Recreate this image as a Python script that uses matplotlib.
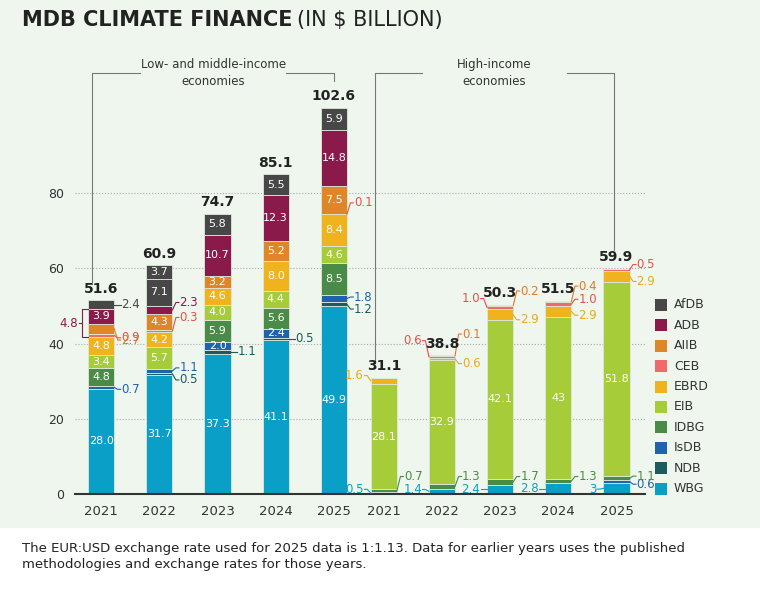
import numpy as np
import matplotlib.pyplot as plt
from matplotlib.patches import Rectangle

years = ['2021', '2022', '2023', '2024', '2025']
totals = [51.6, 60.9, 74.7, 85.1, 102.6, 31.1, 38.8, 50.3, 51.5, 59.9]

# first five: low- and middle-income, last five: high-income
series = ['WBG', 'NDB', 'IsDB', 'IDBG', 'EIB', 'EBRD', 'CEB', 'AIIB', 'ADB', 'Other', 'AfDB']
wbg = [28.0, 31.7, 37.3, 41.1, 49.9, 0.5, 1.4, 2.4, 2.8, 3]
ndb = [0, 0.5, 1.1, 0.5, 1.2, 0, 0, 0, 0, 0]
isdb = [0.7, 1.1, 2.0, 2.4, 1.8, 0, 0, 0, 0, 0.6]
idbg = [4.8, 0, 5.9, 5.6, 8.5, 0.7, 1.3, 1.7, 1.3, 1.1]
eib = [3.4, 5.7, 4.0, 4.4, 4.6, 28.1, 32.9, 42.1, 43, 51.8]
ebrd = [4.8, 4.2, 4.6, 8.0, 8.4, 1.6, 0.6, 2.9, 2.9, 2.9]
ceb = [0.9, 0.3, 0, 0, 0.1, 0, 0.6, 1.0, 1.0, 0.5]
aiib = [2.7, 4.3, 3.2, 5.2, 7.5, 0, 0.1, 0.2, 0.4, 0]
adb = [3.9, 2.3, 10.7, 12.3, 14.8, 0, 0, 0, 0, 0]
other = [0, 7.1, 0, 0, 0, 0, 0, 0, 0, 0]
afdb = [2.4, 3.7, 5.8, 5.5, 5.9, 0, 0, 0, 0, 0]
values = [wbg, ndb, isdb, idbg, eib, ebrd, ceb, aiib, adb, other, afdb]

colors = {'WBG': '#0a9fc6', 'NDB': '#1d5b5e', 'IsDB': '#1f63ae', 'IDBG': '#4b8b48',
          'EIB': '#a7cc3a', 'EBRD': '#efb31d', 'CEB': '#f06a6a', 'AIIB': '#df8629',
          'ADB': '#8a1a49', 'Other': '#474747', 'AfDB': '#474747'}
txtcol = {'WBG': '#0a9fc6', 'NDB': '#1d5b5e', 'IsDB': '#1f63ae', 'IDBG': '#4b8b48',
          'EIB': '#7a9a20', 'EBRD': '#efa81d', 'CEB': '#e8504a', 'AIIB': '#df7a29',
          'ADB': '#8a1a49', 'Other': '#474747', 'AfDB': '#474747'}

# small segments labelled outside: (bar, series, side, dy)
outside = [(0, 'AfDB', 'r', 0), (0, 'CEB', 'r', -0.6), (0, 'AIIB', 'r', -3.0), (0, 'IsDB', 'r', -0.5),
           (1, 'ADB', 'r', 2.0), (1, 'CEB', 'r', 3.6), (1, 'IsDB', 'r', 0.8), (1, 'NDB', 'r', -1.6),
           (2, 'NDB', 'r', 0), (3, 'NDB', 'r', 0), (4, 'CEB', 'r', 3.0), (4, 'IsDB', 'r', 0.4),
           (4, 'NDB', 'r', -1.3),
           (5, 'WBG', 'l', 1.0), (5, 'IDBG', 'r', 3.8), (5, 'EBRD', 'l', 1.4),
           (6, 'WBG', 'l', 0.5), (6, 'IDBG', 'r', 2.6), (6, 'CEB', 'l', 4.3), (6, 'AIIB', 'r', 5.7),
           (6, 'EBRD', 'r', -1.2),
           (7, 'WBG', 'l', 0), (7, 'IDBG', 'r', 1.4), (7, 'CEB', 'l', 2.4), (7, 'AIIB', 'r', 3.8),
           (7, 'EBRD', 'r', -1.3),
           (8, 'WBG', 'l', 0), (8, 'IDBG', 'r', 1.2), (8, 'AIIB', 'r', 4.1), (8, 'CEB', 'r', 1.3),
           (8, 'EBRD', 'r', -1.0),
           (9, 'WBG', 'l', -0.2), (9, 'IsDB', 'r', -0.7), (9, 'IDBG', 'r', 0.6), (9, 'CEB', 'r', 1.4),
           (9, 'EBRD', 'r', -1.4)]

xs = np.r_[np.arange(5), np.arange(5) + 4.86]


def fmt(i, name):
    v = values[series.index(name)][i]
    return str(v) if isinstance(v, int) else f'{v:.1f}'


fig = plt.figure(figsize=(7.6, 5.91), dpi=100)
fig.patch.set_facecolor('white')
fig.patches.append(Rectangle((0, 63 / 591), 1, 1, transform=fig.transFigure,
                             facecolor='#eef6ee', edgecolor='none', zorder=-1))
ax = fig.add_axes([75 / 760, 97 / 591, 570 / 760, 421 / 591])
ax.set_facecolor('none')
ax.set_xlim(-0.45, 9.35)
ax.set_ylim(0, 112)

w = 0.45
bottom = np.zeros(10)
pos = {}
for name, vals in zip(series, values):
    vals = np.array(vals, dtype=float)
    ax.bar(xs, vals, w, bottom=bottom, color=colors[name], edgecolor='#dfe8dc',
           linewidth=0.6, zorder=2)
    for i in range(10):
        pos[(i, name)] = (bottom[i], vals[i])
    bottom += vals

out_keys = {(b, s) for b, s, _, _ in outside}
for (i, name), (b0, v) in pos.items():
    if v >= 2 and (i, name) not in out_keys:
        ax.text(xs[i], b0 + v / 2, fmt(i, name), ha='center', va='center', color='white',
                fontsize=8, zorder=3)

for i, name, side, dy in outside:
    b0, v = pos[(i, name)]
    ym = b0 + v / 2
    sg = 1 if side == 'r' else -1
    x0 = xs[i] + sg * w / 2
    x1 = x0 + sg * 0.11
    ax.plot([x0, x0 + sg * 0.06, x1], [ym, ym + dy, ym + dy], color=txtcol[name], lw=0.8,
            zorder=3, clip_on=False)
    ax.text(x1 + sg * 0.01, ym + dy, fmt(i, name), ha='left' if sg > 0 else 'right', va='center',
            color=txtcol[name], fontsize=8.5, zorder=3)

# bracket for ADB + CEB in 2021
b_ceb = pos[(0, 'CEB')][0]
top_adb = pos[(0, 'ADB')][0] + pos[(0, 'ADB')][1]
xl = xs[0] - w / 2 - 0.1
ax.plot([xs[0] - w / 2, xl, xl, xs[0] - w / 2], [top_adb, top_adb, b_ceb, b_ceb],
        color='#8a1a49', lw=0.8, zorder=3)
ax.plot([xl, xl - 0.06], [(top_adb + b_ceb) / 2] * 2, color='#8a1a49', lw=0.8)
ax.text(xl - 0.08, (top_adb + b_ceb) / 2, '4.8', ha='right', va='center', color='#8a1a49', fontsize=8.5)

for i in range(10):
    ax.text(xs[i], bottom[i] + 1.2, f'{totals[i]:g}', ha='center', va='bottom',
            fontsize=10, fontweight='bold', color='#222222', zorder=3)


# group annotations
def group_note(x_a, x_b, y_a, y_b, text):
    top = 112
    xm = (x_a + x_b) / 2
    ax.plot([x_a, x_a, xm - 1.25], [y_a + 1, top, top], color='#777777', lw=0.8, clip_on=False)
    ax.plot([xm + 1.25, x_b, x_b], [top, top, y_b + 1], color='#777777', lw=0.8, clip_on=False)
    ax.text(xm, top, text, ha='center', va='center', fontsize=8.5, color='#333333',
            linespacing=1.4, clip_on=False)


group_note(xs[0] - 0.15, xs[4], 55, 109, 'Low- and middle-income\neconomies')
group_note(xs[5] - 0.15, xs[9] - 0.05, 34, 64, 'High-income\neconomies')

ax.set_yticks([0, 20, 40, 60, 80])
ax.tick_params(axis='y', length=0, labelsize=9, colors='#333333', pad=8)
ax.grid(axis='y', color='#aaaaaa', linestyle=':', linewidth=0.8, zorder=0)
ax.set_xticks(xs)
ax.set_xticklabels(years * 2, fontsize=9.5, color='#333333')
ax.tick_params(axis='x', length=0, pad=8)
for sp in ['top', 'right', 'left']:
    ax.spines[sp].set_visible(False)
ax.spines['bottom'].set_color('#333333')
ax.spines['bottom'].set_linewidth(1.5)

# legend
leg = ['AfDB', 'ADB', 'AIIB', 'CEB', 'EBRD', 'EIB', 'IDBG', 'IsDB', 'NDB', 'WBG']
for k, name in enumerate(leg):
    yc = 591 - (305 + k * 20.4)
    fig.patches.append(Rectangle((655 / 760, (yc - 6) / 591), 12 / 760, 12 / 591,
                                 transform=fig.transFigure, facecolor=colors[name], edgecolor='none'))
    fig.text(674 / 760, yc / 591, name, va='center', fontsize=9, color='#333333')

fig.text(22 / 760, 571 / 591, 'MDB CLIMATE FINANCE', fontsize=15, fontweight='bold',
         color='#222222', va='center')
fig.text(297 / 760, 571 / 591, '(IN $ BILLION)', fontsize=15, color='#222222', va='center')
fig.text(22 / 760, 542 / 591 - 0.835, 'The EUR:USD exchange rate used for 2025 data is 1:1.13. Data for earlier years uses the published\nmethodologies and exchange rates for those years.',
         fontsize=9.5, color='#222222', va='top', linespacing=1.3)

plt.savefig('out.png', dpi=100)
